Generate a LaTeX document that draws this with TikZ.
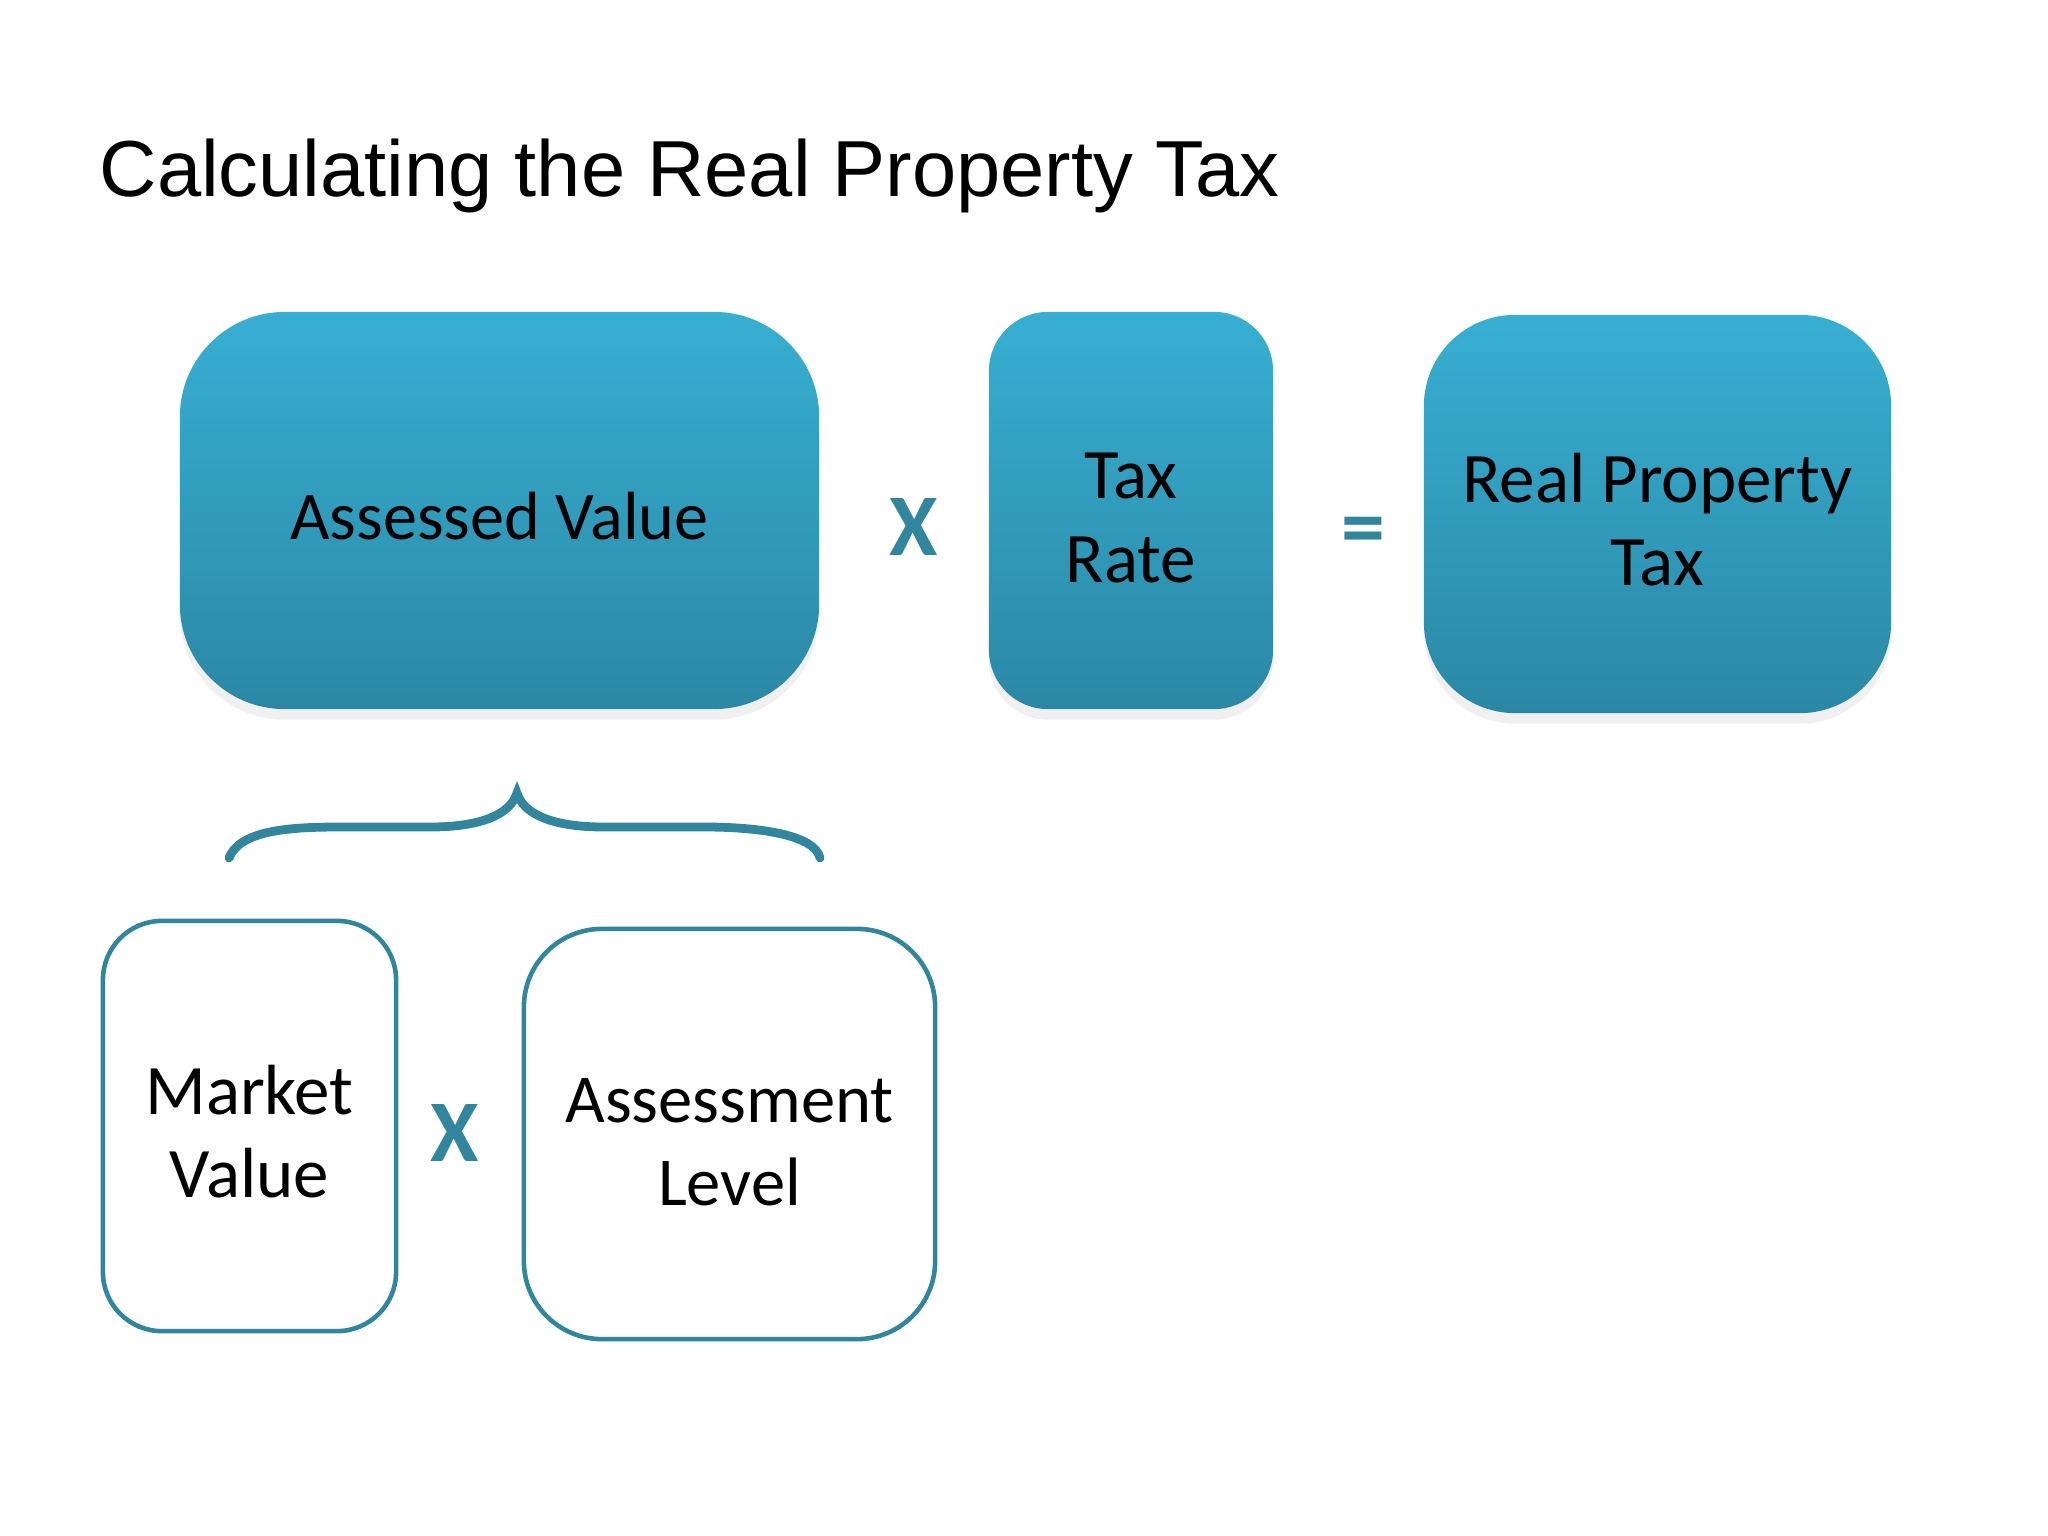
\documentclass[tikz,border=0pt]{standalone}
\usepackage{fontspec}
\setmainfont{Carlito}
\newfontfamily\titlefont{Liberation Sans}
\usetikzlibrary{shadows}

\definecolor{boxtop}{RGB}{55,175,210}
\definecolor{boxbottom}{RGB}{43,136,165}
\definecolor{linecol}{RGB}{49,133,156}

\tikzset{
  bluebox/.style={rectangle, top color=boxtop, bottom color=boxbottom, draw=none,
    align=center, font=\fontsize{20.2}{23.7}\selectfont,
    drop shadow={shadow xshift=0pt, shadow yshift=-3pt, opacity=0.12}},
  linebox/.style={rectangle, draw=linecol, line width=1.3pt, fill=white,
    align=center, font=\fontsize{20.2}{23.7}\selectfont},
  oneline/.style={text height=0.6cm, text depth=0.02cm},
  twoline/.style={text height=1.45cm, text depth=0.02cm},
  opsign/.style={text=linecol, font=\fontsize{25}{28}\selectfont\bfseries}
}

\begin{document}
\begin{tikzpicture}[x=0.01cm, y=0.01cm]
        \useasboundingbox (0,0) rectangle (2048,-1536);

        \node[anchor=base west, inner sep=0pt, font=\titlefont\fontsize{22.6}{26}\selectfont]
          (title) at (99,-196) {Calculating the Real Property Tax};

        \node[bluebox, oneline, font=\fontsize{19.4}{23.7}\selectfont,
          minimum width=6.39cm, minimum height=3.97cm, rounded corners=1.05cm]
          (assessed) at (499.5,-510.5) {Assessed Value};
        \node[opsign] (times) at (914,-527) {X};
        \node[bluebox, twoline, minimum width=2.84cm, minimum height=3.97cm, rounded corners=0.59cm]
          (rate) at (1131,-510.5) {Tax\\Rate};
        \node[opsign] (equals) at (1363,-537) {=};
        \node[bluebox, twoline, minimum width=4.67cm, minimum height=3.98cm, rounded corners=0.91cm]
          (realtax) at (1657.5,-514) {Real Property\\Tax};

        \draw[linecol, line width=2.5pt, line cap=round]
          (229,-858) .. controls (240,-830) and (290,-827) .. (340,-827) -- (430,-827)
          .. controls (480,-827) and (510,-815) .. (517,-793)
          .. controls (524,-815) and (554,-827) .. (604,-827) -- (705,-827)
          .. controls (760,-827) and (815,-835) .. (820,-858);

        \node[linebox, twoline, minimum width=2.93cm, minimum height=4.10cm, rounded corners=0.59cm]
          (market) at (249.5,-1126) {Market\\Value};
        \node[opsign] (times2) at (455,-1133) {X};
        \node[linebox, twoline, font=\fontsize{19.5}{23.7}\selectfont,
          minimum width=4.11cm, minimum height=4.10cm, rounded corners=0.78cm]
          (level) at (729.5,-1134) {Assessment\\Level};
\end{tikzpicture}
\end{document}
